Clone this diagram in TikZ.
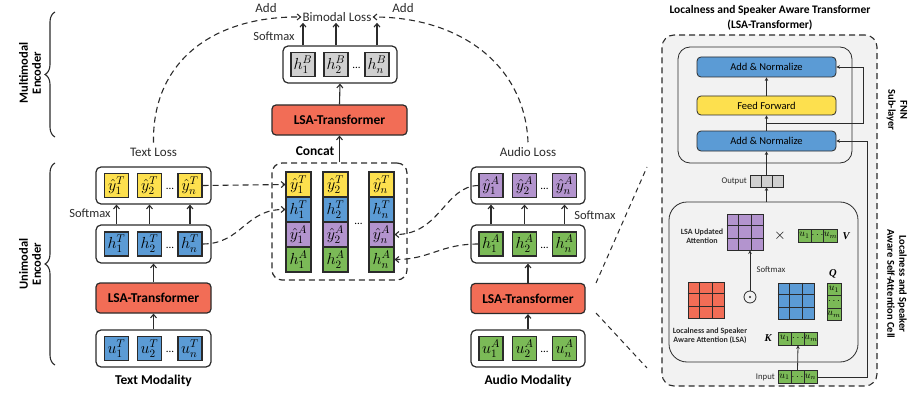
\RequirePackage{fix-cm}
\documentclass[tikz,border=0pt]{standalone}
\usepackage{fontspec}
\setmainfont{Carlito}
\newfontfamily\serifbi{Liberation Serif}
\usetikzlibrary{arrows.meta,decorations.pathreplacing,calc}

\definecolor{yel}{HTML}{FDE04E}
\definecolor{blu}{HTML}{5B9BD5}
\definecolor{pur}{HTML}{B394CE}
\definecolor{grn}{HTML}{7BBA57}
\definecolor{lsared}{HTML}{F26D56}
\definecolor{gry}{HTML}{D0D0D0}
\definecolor{panelbg}{HTML}{F2F2F2}
\definecolor{ink}{HTML}{2B2B2B}

% 3x3 grid lines inside a square node
\newcommand{\gridthree}[1]{%
  \foreach \f in {1,2}{%
    \draw[line width=0.9pt, ink] ($(#1.north west)!\f/3!(#1.north east)$) -- ($(#1.south west)!\f/3!(#1.south east)$);
    \draw[line width=0.9pt, ink] ($(#1.north west)!\f/3!(#1.south west)$) -- ($(#1.north east)!\f/3!(#1.south east)$);
  }}

\begin{document}
\begin{tikzpicture}[x=1pt,y=-1pt,
  cell/.style={draw=ink, line width=1.1pt, minimum width=24pt, minimum height=24pt, inner sep=0pt, font=\fontsize{16}{16}\selectfont},
  ccell/.style={cell, minimum width=25pt, minimum height=25pt},
  rowbox/.style={draw=ink, line width=1.2pt, rounded corners=5pt, fill=white, minimum width=115pt, minimum height=37pt},
  lsabox/.style={draw=ink, line width=1.2pt, rounded corners=4pt, fill=lsared, minimum width=115pt, minimum height=30pt, font=\bfseries\fontsize{13.5}{14}\selectfont},
  arr/.style={-{Straight Barb[length=3.5pt,width=6pt]}, line width=1.1pt, draw=ink},
  darr/.style={arr, dash pattern=on 6pt off 4pt},
  lbl/.style={font=\fontsize{13}{14}\selectfont, text=ink, inner sep=1pt},
  smx/.style={font=\fontsize{12.5}{13}\selectfont, text=ink, inner sep=1pt},
  blbl/.style={font=\bfseries\fontsize{13.5}{14}\selectfont, text=black, inner sep=1pt},
  dotsl/.style={font=\fontsize{11}{11}\selectfont, inner sep=0pt},
  brc/.style={decorate, decoration={brace, amplitude=10pt}, line width=1.1pt, draw=ink},
  % panel styles
  pline/.style={line width=0.8pt, draw=ink},
  parr/.style={-{Stealth[length=3.5pt,width=3.5pt]}, line width=0.8pt, draw=ink},
  bar/.style={draw=ink, line width=0.8pt, rounded corners=4pt, minimum width=139pt, minimum height=20pt, inner sep=0pt, font=\fontsize{10.5}{11}\selectfont},
  vcell/.style={draw=ink, line width=0.7pt, fill=grn, minimum width=13pt, minimum height=13pt, inner sep=0pt, font=\fontsize{10}{10}\selectfont},
  ocell/.style={draw=ink, line width=0.7pt, fill=gry, minimum width=11pt, minimum height=12pt, inner sep=0pt},
  gridsq/.style={draw=ink, line width=0.9pt, minimum width=36pt, minimum height=36pt, inner sep=0pt},
  plbl/.style={font=\fontsize{8.7}{9}\selectfont, text=ink, inner sep=1pt},
  pblbl/.style={font=\bfseries\fontsize{8}{9.5}\selectfont, text=ink, inner sep=0pt, align=center},
  sidelbl/.style={font=\bfseries\fontsize{10.5}{12}\selectfont, rotate=-90, align=center, inner sep=0pt},
  mlbl/.style={font=\serifbi\bfseries\itshape\fontsize{10.5}{10}\selectfont, inner sep=0pt},
]
\useasboundingbox (0,0) rectangle (914,396);

% ---------- encoder labels and braces ----------
\node[blbl, rotate=90, align=center, font=\bfseries\fontsize{12.5}{13}\selectfont] (mmlab) at (30,73) {Multimodal\\Encoder};
\node[blbl, rotate=90, align=center, font=\bfseries\fontsize{12.5}{13}\selectfont] (umlab) at (30,264) {Unimodal\\Encoder};
\draw[brc] (55,137) -- (55,12);
\draw[brc] (55,365) -- (55,163);

% ---------- text modality column ----------
\node[rowbox] (tubox) at (153.5,348.5) {};
\node[cell, fill=blu] (tu1) at (116.5,348.5) {$u_1^T$};
\node[cell, fill=blu] (tu2) at (149.5,348.5) {$u_2^T$};
\node[cell, fill=blu] (tun) at (190,348.5) {$u_n^T$};
\node[dotsl] at (170,352) {...};
\node[lsabox] (tlsa) at (153.5,298) {LSA-Transformer};
\node[rowbox, minimum height=38pt] (thbox) at (153.5,244) {};
\node[cell, fill=blu] (th1) at (116.5,244) {$h_1^T$};
\node[cell, fill=blu] (th2) at (149.5,244) {$h_2^T$};
\node[cell, fill=blu] (thn) at (190,244) {$h_n^T$};
\node[dotsl] at (170,248) {...};
\node[rowbox] (tybox) at (153.5,185.5) {};
\node[cell, fill=yel] (ty1) at (116.5,185.5) {$\hat{y}_1^T$};
\node[cell, fill=yel] (ty2) at (149.5,185.5) {$\hat{y}_2^T$};
\node[cell, fill=yel] (tyn) at (190,185.5) {$\hat{y}_n^T$};
\node[dotsl] at (170,189) {...};
\node[lbl] (tloss) at (153.5,152) {Text Loss};
\node[blbl] (tmod) at (153.5,381) {Text Modality};
\node[smx] (tsmx) at (90,213) {Softmax};

\draw[arr] (tubox.north) -- (tlsa.south);
\draw[arr] (tlsa.north) -- (thbox.south);
\foreach \c in {th1,th2,thn}{\draw[arr] (\c |- thbox.north) -- (\c |- tybox.south);}

% ---------- audio modality column ----------
\node[rowbox, minimum width=114pt] (aubox) at (528,348.5) {};
\node[cell, fill=grn] (au1) at (491,348.5) {$u_1^A$};
\node[cell, fill=grn] (au2) at (524.5,348.5) {$u_2^A$};
\node[cell, fill=grn] (aun) at (564.5,348.5) {$u_n^A$};
\node[dotsl] at (544.5,352) {...};
\node[lsabox, minimum width=114pt] (alsa) at (528,298.5) {LSA-Transformer};
\node[rowbox, minimum width=114pt, minimum height=38pt] (ahbox) at (528,244) {};
\node[cell, fill=grn] (ah1) at (491,244) {$h_1^A$};
\node[cell, fill=grn] (ah2) at (524.5,244) {$h_2^A$};
\node[cell, fill=grn] (ahn) at (564.5,244) {$h_n^A$};
\node[dotsl] at (544.5,248) {...};
\node[rowbox, minimum width=114pt] (aybox) at (528,185.5) {};
\node[cell, fill=pur] (ay1) at (491,185.5) {$\hat{y}_1^A$};
\node[cell, fill=pur] (ay2) at (524.5,185.5) {$\hat{y}_2^A$};
\node[cell, fill=pur] (ayn) at (564.5,185.5) {$\hat{y}_n^A$};
\node[dotsl] at (544.5,189) {...};
\node[lbl] (aloss) at (528,152) {Audio Loss};
\node[blbl] (amod) at (528,381) {Audio Modality};
\node[smx] (asmx) at (595,215) {Softmax};

\draw[arr] (aubox.north) -- (alsa.south);
\draw[arr] (alsa.north) -- (ahbox.south);
\foreach \c in {ah1,ah2,ahn}{\draw[arr] (\c |- ahbox.north) -- (\c |- aybox.south);}

% ---------- concatenation block ----------
\node[draw=ink, line width=1.2pt, dash pattern=on 6pt off 4pt, rounded corners=10pt, minimum width=135pt, minimum height=117pt] (cbox) at (339.5,221.5) {};
\foreach \x/\k in {298.5/1,335.5/2,381.5/n}{
  \node[ccell, fill=yel] (cy\k) at (\x,184.5) {$\hat{y}_\k^T$};
  \node[ccell, fill=blu] (ch\k) at (\x,209.5) {$h_\k^T$};
  \node[ccell, fill=pur] (ca\k) at (\x,234.5) {$\hat{y}_\k^A$};
  \node[ccell, fill=grn] (cg\k) at (\x,259.5) {$h_\k^A$};
}
\node[dotsl] at (358.5,224) {...};
\node[blbl] (concat) at (315,151) {Concat};

% ---------- multimodal encoder ----------
\node[lsabox, minimum width=135pt] (mlsa) at (339.5,120) {LSA-Transformer};
\node[rowbox, minimum width=114pt] (hbbox) at (340,64.5) {};
\node[cell, fill=gry] (hb1) at (303,64.5) {$h_1^B$};
\node[cell, fill=gry] (hb2) at (336,64.5) {$h_2^B$};
\node[cell, fill=gry] (hbn) at (377,64.5) {$h_n^B$};
\node[dotsl] at (356.5,68) {...};
\node[lbl] (bloss) at (337,17) {Bimodal Loss};
\node[smx] (bsmx) at (274,36) {Softmax};
\node[lbl] (addl) at (266,8) {Add};
\node[lbl] (addr) at (403,8) {Add};

\draw[arr] (cbox.north -| mlsa.south) -- (mlsa.south);
\draw[arr] (mlsa.north) -- (hbbox.south);
\foreach \c in {hb1,hb2,hbn}{\draw[arr] (\c |- hbbox.north) -- (\c |- bloss.south);}

% ---------- dashed feeds into the concat block ----------
\draw[darr] (tyn.east) -- (cy1.west);
\draw[darr] (thn.east) .. controls (242,244) and (245,209) .. (ch1.west);
\draw[darr] (ay1.west) .. controls (445,186) and (440,234.5) .. (can.east);
\draw[darr] (ah1.west) .. controls (440,244) and (430,259.5) .. (cgn.east);

% ---------- losses added into the bimodal loss ----------
\draw[darr] ($(tloss.north)+(0,-4)$) .. controls (152,60) and (215,16) .. (bloss.west);
\draw[darr] ($(aloss.north)+(0,-4)$) .. controls (525,65) and (460,17) .. (bloss.east);

% ---------- zoom lines to the transformer detail ----------
\coordinate (zA) at (596,283);
\coordinate (zB) at (647,167);
\coordinate (zC) at (596,313);
\coordinate (zD) at (647,368);
\draw[line width=1pt, ink, dash pattern=on 5pt off 4pt] (zA) -- (zB);
\draw[line width=1pt, ink, dash pattern=on 5pt off 4pt] (zC) -- (zD);

% ---------- LSA-Transformer detail panel ----------
\node[font=\bfseries\fontsize{11.5}{15}\selectfont, align=center, inner sep=0pt] (ptitle) at (770,18) {Localness and Speaker Aware Transformer\\(LSA-Transformer)};
\node[draw=ink, fill=panelbg, line width=1.1pt, dash pattern=on 6pt off 4pt, rounded corners=12pt, minimum width=215pt, minimum height=351pt] (panel) at (769.5,210.5) {};
\node[draw=ink, line width=0.8pt, rounded corners=12pt, minimum width=174pt, minimum height=116pt] (fnn) at (765,105) {};
\node[bar, fill=blu] (an2) at (766.5,67) {Add \& Normalize};
\node[bar, fill=yel, minimum height=19pt] (ff) at (766.5,105.5) {Feed Forward};
\node[bar, fill=blu] (an1) at (766.5,141) {Add \& Normalize};
\draw[parr] (an1.north) -- (ff.south);
\draw[parr] (ff.north) -- (an2.south);
\coordinate (res1) at ($(an1.north)!0.45!(ff.south)$);
\draw[parr] (res1) -- (863,124.5 |- res1) |- (an2.east);

% output vector
\node[ocell] (o2) at (766.5,181) {};
\node[ocell] (o1) at (755.5,181) {};
\node[ocell] (o3) at (777.5,181) {};
\node[plbl, anchor=east] (olab) at (748,181) {Output};
\draw[parr] (o2.north) -- (an1.south);

% self-attention cell
\node[draw=ink, line width=0.8pt, rounded corners=18pt, minimum width=189pt, minimum height=160pt] (att) at (763.5,282) {};
\draw[parr] (att.north -| o2) -- (o2.south);

\node[gridsq, fill=pur] (upd) at (745,232) {};
\gridthree{upd}
\node[pblbl] (updlab) at (702,236) {LSA Updated\\Attention};
\node[font=\fontsize{15}{15}\selectfont, inner sep=0pt] (times) at (780,236) {$\times$};
\node[vcell] (v1) at (804.5,235.5) {$u_1$};
\node[vcell] (v2) at (817.5,235.5) {$\cdots$};
\node[vcell] (v3) at (830.5,235.5) {$u_m$};
\node[mlbl] (vlab) at (846,236) {V};

\node[circle, draw=ink, line width=0.8pt, minimum size=12pt, inner sep=0pt] (odot) at (750,297) {};
\fill[ink] (odot.center) circle (1.2pt);
\draw[parr] (odot.north) -- (upd.south -| odot);
\node[plbl] (psmx) at (771,270) {Softmax};

\node[gridsq, fill=lsared] (lsaw) at (706,300) {};
\gridthree{lsaw}
\node[pblbl] (lsalab) at (710,336) {Localness and Speaker\\Aware Attention (LSA)};

\node[gridsq, fill=blu] (qk) at (796,301) {};
\gridthree{qk}
\node[vcell, minimum width=14pt, minimum height=12.5pt] (q1) at (834,289.25) {$u_1$};
\node[vcell, minimum width=14pt, minimum height=12.5pt] (q2) at (834,301.75) {$\cdots$};
\node[vcell, minimum width=14pt, minimum height=12.5pt] (q3) at (834,314.25) {$u_m$};
\node[mlbl] (qlab) at (833,274) {Q};

\node[vcell] (k1) at (785,338.5) {$u_1$};
\node[vcell] (k2) at (798,338.5) {$\cdots$};
\node[vcell] (k3) at (811,338.5) {$u_m$};
\node[mlbl] (klab) at (768,338) {K};

\node[vcell] (i1) at (784.5,377) {$u_1$};
\node[vcell] (i2) at (797.5,377) {$\cdots$};
\node[vcell] (i3) at (810.5,377) {$u_n$};
\node[plbl, anchor=east] (ilab) at (776,377) {Input};
\draw[parr] (i2.north) -- (k2.south);
\draw[parr] (i3.east) -- (867,377 |- i3.east) |- (an1.east);

\node[sidelbl] (fnnlab) at (897,110) {FNN\\Sub-layer};
\node[sidelbl] (attlab) at (897,284) {Localness and Speaker\\Aware Self-Attention Cell};
\end{tikzpicture}
\end{document}
